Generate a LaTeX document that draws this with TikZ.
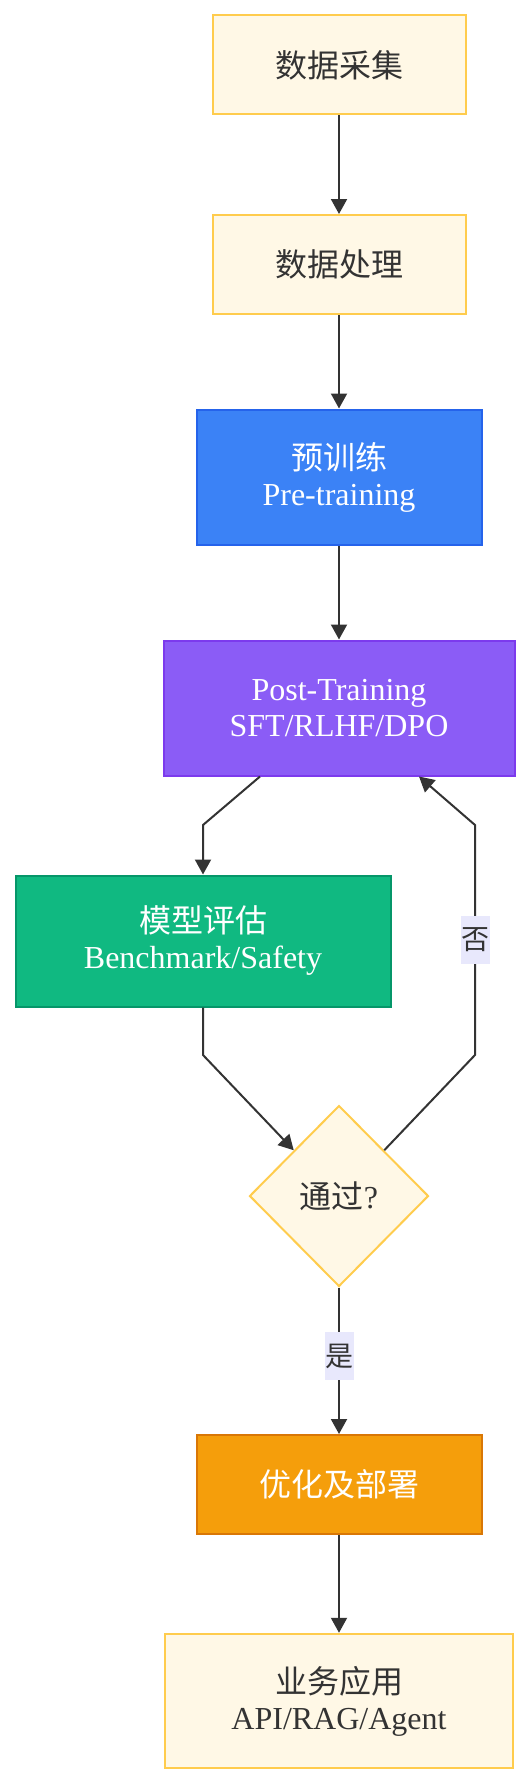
\documentclass[tikz,border=0pt]{standalone}
\usepackage{fontspec}
\setmainfont{Liberation Serif}
\newfontfamily\cjk{Noto Sans CJK SC}
\usetikzlibrary{arrows.meta,shapes.geometric,calc}
\definecolor{creamfill}{HTML}{FFF8E6}
\definecolor{creamline}{HTML}{FFCC4D}
\definecolor{bluefill}{HTML}{3B82F6}
\definecolor{blueline}{HTML}{2563EB}
\definecolor{purplefill}{HTML}{8B5CF6}
\definecolor{purpleline}{HTML}{7C3AED}
\definecolor{greenfill}{HTML}{10B981}
\definecolor{greenline}{HTML}{059669}
\definecolor{orangefill}{HTML}{F59E0B}
\definecolor{orangeline}{HTML}{D97706}
\definecolor{edgecol}{HTML}{333333}
\definecolor{txtcol}{HTML}{333333}
\definecolor{lblbg}{HTML}{E8E8FC}
\begin{document}
\begin{tikzpicture}[x=1pt,y=-1pt,
  base/.style={rectangle, line width=2pt, inner sep=0pt, align=center,
    font=\fontsize{32}{36}\selectfont},
  cream/.style={base, draw=creamline, fill=creamfill, text=txtcol},
  blueb/.style={base, draw=blueline, fill=bluefill, text=white},
  purpleb/.style={base, draw=purpleline, fill=purplefill, text=white},
  greenb/.style={base, draw=greenline, fill=greenfill, text=white},
  orangeb/.style={base, draw=orangeline, fill=orangefill, text=white},
  decision/.style={diamond, aspect=1, draw=creamline, fill=creamfill,
    line width=2pt, minimum width=179pt, minimum height=181pt, inner sep=0pt,
    text=txtcol, font=\fontsize{32}{36}\selectfont},
  conn/.style={draw=edgecol, line width=2pt, -{Triangle[length=15pt,width=16pt]}},
  lbl/.style={fill=lblbg, inner sep=0pt, minimum width=29pt, minimum height=48pt,
    text=txtcol, font=\cjk\fontsize{28}{28}\selectfont}
]
\useasboundingbox (0,0) rectangle (530,1782);

\node[cream, minimum width=253pt, minimum height=99pt] (n1) at (339,65) {\cjk 数据采集};
\node[cream, minimum width=253pt, minimum height=99pt] (n2) at (339,264.5) {\cjk 数据处理};
\node[blueb, minimum width=285pt, minimum height=135pt] (n3) at (339,477) {{\cjk 预训练}\\Pre-training};
\node[purpleb, minimum width=351pt, minimum height=135pt] (n4) at (339,708) {Post-Training\\SFT/RLHF/DPO};
\node[greenb, minimum width=375pt, minimum height=131pt] (n5) at (203,941) {{\cjk 模型评估}\\Benchmark/Safety};
\node[decision] (n6) at (339,1196) {{\cjk 通过}?};
\node[orangeb, minimum width=285pt, minimum height=99pt] (n7) at (339,1484.5) {\cjk 优化及部署};
\node[cream, minimum width=348pt, minimum height=134.5pt] (n8) at (339,1701) {{\cjk 业务应用}\\API/RAG/Agent};

\coordinate (b1) at (203,825);
\coordinate (b2) at (203,1055);
\coordinate (b3) at (475,1055);
\coordinate (b4) at (475,825);

\draw[conn] (n1.south) -- (n2.north);
\draw[conn] (n2.south) -- (n3.north);
\draw[conn] (n3.south) -- (n4.north);
\draw[conn] ([xshift=-79pt]n4.south) -- (b1) -- (n5.north);
\draw[conn] (n5.south) -- (b2) -- ($(n6.north)!0.5!(n6.west)$);
\draw[conn] ($(n6.north)!0.5!(n6.east)$) -- (b3) -- node[lbl] (l1) {否} (b4) -- ([xshift=80pt]n4.south);
\draw[conn] (n6.south) -- node[lbl, pos=0.47] (l2) {是} (n7.north);
\draw[conn] (n7.south) -- (n8.north);
\end{tikzpicture}
\end{document}
